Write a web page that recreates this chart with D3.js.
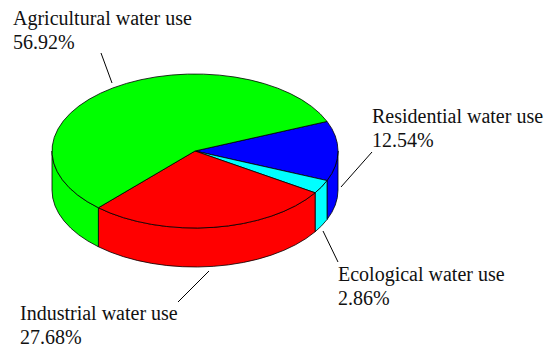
<!DOCTYPE html>
<html>
<head>
<meta charset="UTF-8">
<title>Water use structure</title>
<script src="https://cdn.jsdelivr.net/npm/d3@7/dist/d3.min.js"></script>
<style>
    body { margin: 0; background: #fff; }
    text { font-family: "Times New Roman", "Liberation Serif", serif; font-size: 20px; fill: #111; }
</style>
</head>
<body>
<script>
    // data (clockwise from the right side)
    var categories = ["Residential water use", "Ecological water use", "Industrial water use", "Agricultural water use"];
    var shares = [12.54, 2.86, 27.68, 56.92];
    var colors = ["#0000ff", "#00ffff", "#ff0000", "#00ff00"];

    var width = 550, height = 354;
    var cx = 195, cy = 151, rx = 143, ry = 77, depth = 39;

    // label positions (x, first baseline) and leader lines
    var labelPos = [
        {x: 372, y: 123, line: [[372, 152], [341, 187]]},
        {x: 338, y: 281, line: [[323, 231], [338, 262]]},
        {x: 20, y: 320, line: [[209, 271], [178, 302]]},
        {x: 13, y: 25, line: [[101, 53], [112, 83]]}
    ];

    var svg = d3.select("body").append("svg")
        .attr("width", width)
        .attr("height", height);

    // blue slice centred on the right
    var blueSpan = shares[0] / 100 * 2 * Math.PI;
    var pie = d3.pie().sort(null)
        .startAngle(Math.PI / 2 - blueSpan / 2)
        .endAngle(Math.PI / 2 - blueSpan / 2 + 2 * Math.PI);
    var arcs = pie(shares);

    // d3 angle (from 12 o'clock) -> screen angle (from 3 o'clock, clockwise)
    function toScreen(a) { return a - Math.PI / 2; }
    function pt(t, dy) {
        return [cx + rx * Math.cos(t), cy + ry * Math.sin(t) + (dy || 0)];
    }

    function topPath(d) {
        var a = toScreen(d.startAngle), b = toScreen(d.endAngle);
        var p0 = pt(a), p1 = pt(b);
        var large = (b - a) > Math.PI ? 1 : 0;
        return "M" + cx + "," + cy + "L" + p0 + "A" + rx + "," + ry + " 0 " + large + " 1 " + p1 + "Z";
    }

    function sidePath(d) {
        var a = toScreen(d.startAngle), b = toScreen(d.endAngle);
        var s = Math.max(a, 0), e = Math.min(b, Math.PI);
        if (s >= e) return null;
        var p0 = pt(s), p1 = pt(e), q0 = pt(s, depth), q1 = pt(e, depth);
        return "M" + p0 + "A" + rx + "," + ry + " 0 0 1 " + p1 +
            "L" + q1 + "A" + rx + "," + ry + " 0 0 0 " + q0 + "Z";
    }

    var g = svg.append("g");

    g.selectAll("path.side")
        .data(arcs.filter(function(d) { return sidePath(d) !== null; }))
        .enter().append("path")
        .attr("class", "side")
        .attr("d", sidePath)
        .attr("fill", function(d) { return colors[d.index]; })
        .attr("stroke", "#000")
        .attr("stroke-width", 0.8)
        .attr("stroke-linejoin", "round");

    g.selectAll("path.top")
        .data(arcs)
        .enter().append("path")
        .attr("class", "top")
        .attr("d", topPath)
        .attr("fill", function(d) { return colors[d.index]; })
        .attr("stroke", "#000")
        .attr("stroke-width", 0.8)
        .attr("stroke-linejoin", "round");

    // labels
    var lab = svg.selectAll("g.label")
        .data(categories)
        .enter().append("g")
        .attr("class", "label");

    lab.append("line")
        .attr("x1", function(d, i) { return labelPos[i].line[0][0]; })
        .attr("y1", function(d, i) { return labelPos[i].line[0][1]; })
        .attr("x2", function(d, i) { return labelPos[i].line[1][0]; })
        .attr("y2", function(d, i) { return labelPos[i].line[1][1]; })
        .attr("stroke", "#000")
        .attr("stroke-width", 1);

    lab.append("text")
        .attr("x", function(d, i) { return labelPos[i].x; })
        .attr("y", function(d, i) { return labelPos[i].y; })
        .text(function(d) { return d; });

    lab.append("text")
        .attr("x", function(d, i) { return labelPos[i].x; })
        .attr("y", function(d, i) { return labelPos[i].y + 24; })
        .text(function(d, i) { return shares[i].toFixed(2) + "%"; });
</script>
</body>
</html>
